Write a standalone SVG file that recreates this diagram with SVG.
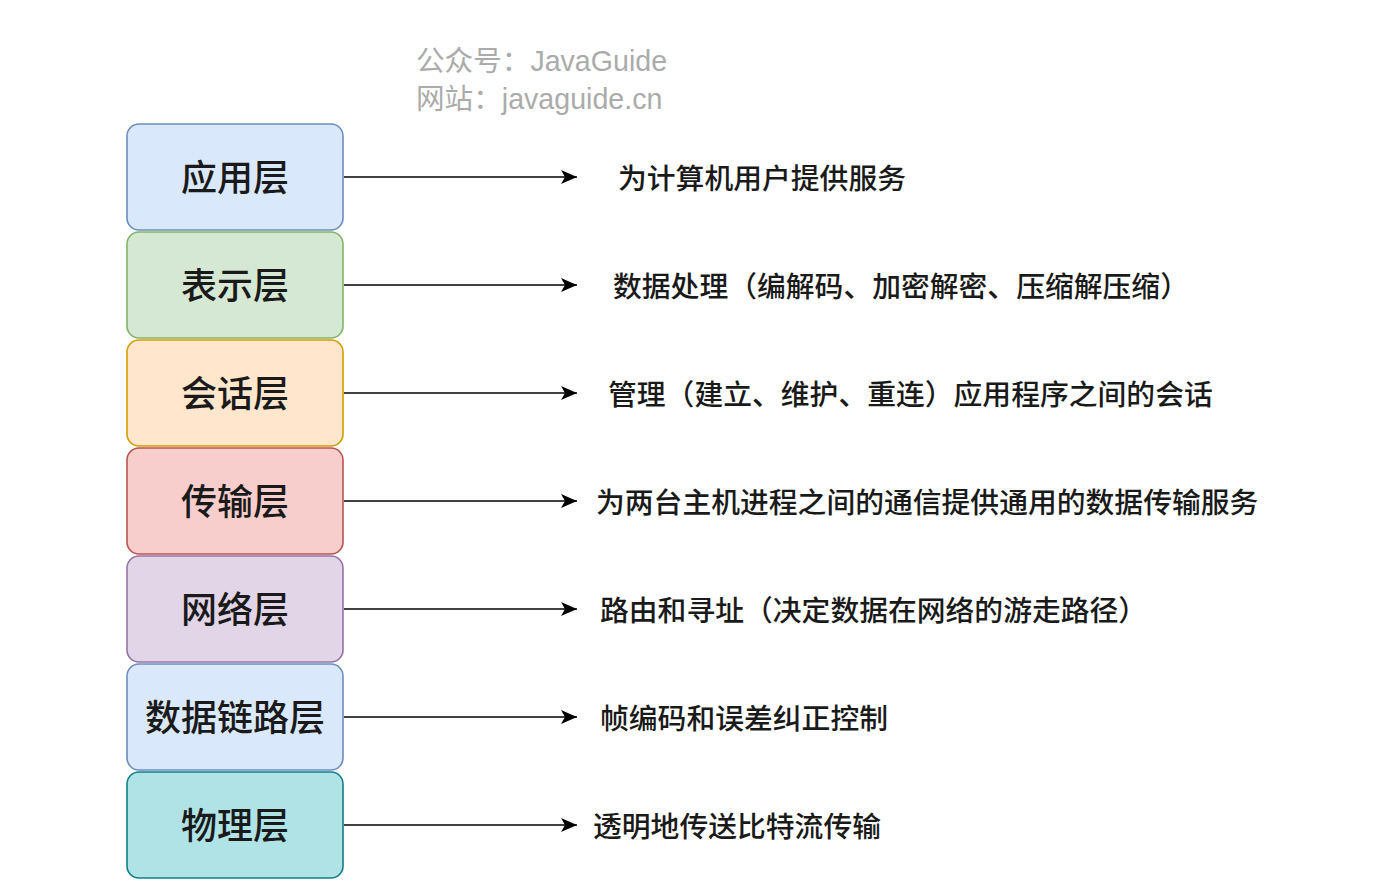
<svg xmlns="http://www.w3.org/2000/svg" width="1382" height="892" viewBox="0 0 1382 892">
<style>
.wm{font-family:"Liberation Sans","Noto Sans CJK SC",sans-serif;font-size:28.6px;fill:#ababab}
.lbl{font-family:"Liberation Sans","Noto Sans CJK SC",sans-serif;font-size:36px;font-weight:500;fill:#1a1a1a;text-anchor:middle}
.desc{font-family:"Liberation Sans","Noto Sans CJK SC",sans-serif;font-size:28.8px;font-weight:500;fill:#1a1a1a}
.box{stroke-width:1.6}
.conn{stroke:#000;stroke-width:1.6;fill:none;marker-end:url(#arr)}
</style>
<defs>
<marker id="arr" markerUnits="userSpaceOnUse" markerWidth="18" markerHeight="16" refX="16" refY="7" orient="auto">
<path d="M0,0 L16,7 L0,14 L4,7 Z" fill="#000"/>
</marker>
</defs>
<rect width="1382" height="892" fill="#fff"/>
<g id="watermark">
<text class="wm" x="416" y="71">公众号：JavaGuide</text>
<text class="wm" x="416" y="109">网站：javaguide.cn</text>
</g>
<g id="n1"><rect class="box" x="127" y="124" width="216" height="106" rx="12" fill="#dae8fc" stroke="#6c8ebf"/><text class="lbl" x="235" y="191">应用层</text></g>
<g id="n2"><rect class="box" x="127" y="232" width="216" height="106" rx="12" fill="#d5e8d4" stroke="#82b366"/><text class="lbl" x="235" y="299">表示层</text></g>
<g id="n3"><rect class="box" x="127" y="340" width="216" height="106" rx="12" fill="#ffe6cc" stroke="#d79b00"/><text class="lbl" x="235" y="407">会话层</text></g>
<g id="n4"><rect class="box" x="127" y="448" width="216" height="106" rx="12" fill="#f8cecc" stroke="#b85450"/><text class="lbl" x="235" y="515">传输层</text></g>
<g id="n5"><rect class="box" x="127" y="556" width="216" height="106" rx="12" fill="#e1d5e7" stroke="#9673a6"/><text class="lbl" x="235" y="623">网络层</text></g>
<g id="n6"><rect class="box" x="127" y="664" width="216" height="106" rx="12" fill="#dae8fc" stroke="#6c8ebf"/><text class="lbl" x="235" y="731">数据链路层</text></g>
<g id="n7"><rect class="box" x="127" y="772" width="216" height="106" rx="12" fill="#b0e3e6" stroke="#0e8088"/><text class="lbl" x="235" y="839">物理层</text></g>
<g id="connectors">
<line class="conn" x1="344" y1="177" x2="577" y2="177"/>
<line class="conn" x1="344" y1="285" x2="577" y2="285"/>
<line class="conn" x1="344" y1="393" x2="577" y2="393"/>
<line class="conn" x1="344" y1="501" x2="577" y2="501"/>
<line class="conn" x1="344" y1="609" x2="577" y2="609"/>
<line class="conn" x1="344" y1="717" x2="577" y2="717"/>
<line class="conn" x1="344" y1="825" x2="577" y2="825"/>
</g>
<g id="descriptions">
<text class="desc" x="618" y="189">为计算机用户提供服务</text>
<text class="desc" x="613" y="297">数据处理（编解码、加密解密、压缩解压缩）</text>
<text class="desc" x="608" y="405">管理（建立、维护、重连）应用程序之间的会话</text>
<text class="desc" x="596" y="513">为两台主机进程之间的通信提供通用的数据传输服务</text>
<text class="desc" x="600" y="621">路由和寻址（决定数据在网络的游走路径）</text>
<text class="desc" x="600" y="729">帧编码和误差纠正控制</text>
<text class="desc" x="593" y="837">透明地传送比特流传输</text>
</g>
</svg>
